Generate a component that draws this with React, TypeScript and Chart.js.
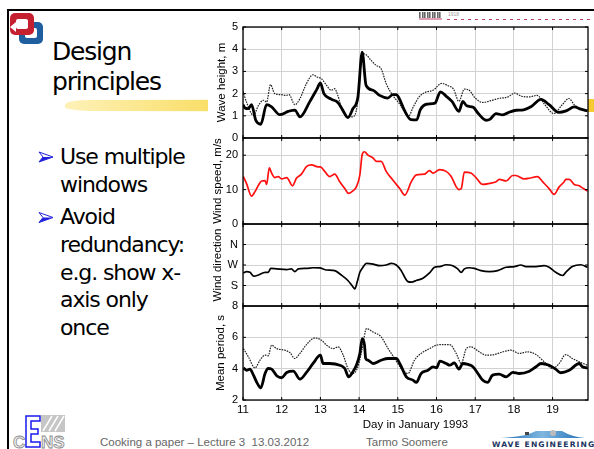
import React, { useEffect, useRef } from 'react';
import { Chart, registerables } from 'chart.js';

Chart.register(...registerables);

// ---------- data (day in January 1993, value) ----------
const dayTicks = [11, 12, 13, 14, 15, 16, 17, 18, 19];
const waveTicks = [0, 1, 2, 3, 4, 5];
const windTicks = [0, 10, 20];
const dirTicks = [180, 270, 360];
const dirTickLabels: Record<number, string> = { 180: 'S', 270: 'W', 360: 'N' };
const periodTicks = [2, 4, 6, 8];

const waveMeasured: [number, number][] = [
  [11.0, 1.5], [11.05, 1.35], [11.14, 1.32], [11.22, 1.5], [11.33, 0.8], [11.46, 0.62], [11.61, 1.5],
  [11.74, 1.4], [11.95, 1.05], [12.17, 1.2], [12.34, 1.26], [12.47, 0.95], [12.73, 1.65], [12.91, 2.2],
  [13.0, 2.48], [13.09, 2.0], [13.28, 1.75], [13.45, 1.6], [13.58, 1.25], [13.71, 0.92], [13.84, 1.32],
  [13.97, 1.85], [14.08, 3.87], [14.18, 2.37], [14.36, 2.15], [14.53, 1.92], [14.74, 1.8], [14.87, 1.95],
  [14.96, 1.95], [15.04, 1.77], [15.17, 1.25], [15.34, 0.83], [15.49, 0.82], [15.58, 1.27], [15.74, 1.52],
  [15.96, 1.57], [16.1, 2.08], [16.24, 1.9], [16.4, 1.65], [16.58, 1.2], [16.68, 1.65], [16.78, 1.45],
  [16.95, 1.38], [17.08, 1.1], [17.28, 0.8], [17.38, 0.84], [17.54, 1.1], [17.71, 1.04], [17.89, 1.17],
  [18.06, 1.25], [18.25, 1.27], [18.45, 1.42], [18.7, 1.74], [18.91, 1.5], [19.16, 1.15], [19.35, 1.22],
  [19.56, 1.4], [19.73, 1.3], [19.9, 1.22],
];

const waveModel: [number, number][] = [
  [11.0, 2.1], [11.09, 1.62], [11.27, 1.02], [11.4, 1.47], [11.53, 1.7], [11.61, 1.62], [11.71, 2.4],
  [11.82, 2.0], [11.99, 1.95], [12.12, 1.92], [12.19, 1.95], [12.34, 1.5], [12.47, 1.77], [12.64, 2.45],
  [12.81, 2.85], [12.91, 2.75], [13.03, 2.67], [13.16, 2.37], [13.28, 2.15], [13.37, 2.22], [13.45, 1.92],
  [13.58, 1.17], [13.71, 0.95], [13.82, 0.95], [13.93, 1.25], [14.01, 2.52], [14.08, 3.8], [14.18, 3.75],
  [14.31, 3.5], [14.44, 3.27], [14.57, 3.12], [14.7, 2.45], [14.87, 1.92], [15.04, 1.55], [15.17, 1.2],
  [15.27, 0.97], [15.4, 1.4], [15.55, 1.85], [15.7, 2.05], [15.92, 2.16], [16.13, 2.46], [16.3, 2.35],
  [16.44, 2.2], [16.58, 1.65], [16.72, 2.2], [16.82, 2.18], [17.0, 1.8], [17.2, 1.6], [17.4, 1.68],
  [17.6, 1.78], [17.85, 1.85], [18.02, 2.02], [18.2, 1.88], [18.4, 1.85], [18.6, 1.92], [18.8, 1.5],
  [19.03, 1.1], [19.25, 1.5], [19.42, 1.78], [19.56, 1.5], [19.73, 1.3], [19.9, 1.2],
];

const windSpeed: [number, number][] = [
  [11.01, 13.8], [11.09, 11.8], [11.22, 8.1], [11.31, 9.4], [11.4, 11.3], [11.48, 12.5], [11.57, 12.6],
  [11.61, 11.5], [11.68, 16.3], [11.74, 14.8], [11.82, 13.5], [11.91, 13.8], [12.0, 13.1], [12.13, 13.5],
  [12.28, 11.1], [12.38, 13.3], [12.51, 14.5], [12.64, 16.7], [12.77, 17.2], [12.94, 16.6], [13.0, 16.6],
  [13.11, 15.3], [13.24, 13.8], [13.37, 14.5], [13.5, 12.3], [13.63, 10.3], [13.73, 8.9], [13.84, 9.6],
  [13.93, 10.8], [14.02, 14.3], [14.08, 20.2], [14.14, 21.0], [14.23, 20.0], [14.36, 19.2], [14.45, 18.2],
  [14.57, 18.2], [14.7, 15.3], [14.87, 12.8], [15.05, 10.3], [15.18, 8.4], [15.35, 12.3], [15.48, 14.3],
  [15.69, 14.5], [15.82, 15.5], [15.91, 14.8], [16.08, 15.8], [16.25, 15.3], [16.38, 13.8], [16.51, 10.8],
  [16.58, 10.0], [16.64, 10.3], [16.72, 15.1], [16.89, 14.8], [17.02, 13.5], [17.19, 11.5], [17.37, 11.8],
  [17.54, 12.3], [17.62, 13.0], [17.8, 12.5], [17.97, 14.1], [18.05, 14.1], [18.27, 13.1], [18.4, 13.3],
  [18.61, 13.8], [18.74, 12.3], [18.91, 10.3], [19.04, 8.6], [19.17, 10.8], [19.3, 12.3], [19.34, 13.0],
  [19.43, 13.0], [19.56, 11.5], [19.69, 11.1], [19.77, 10.5], [19.9, 9.6],
];

const windDirection: [number, number][] = [
  [11.01, 235], [11.09, 241], [11.18, 238], [11.28, 221], [11.4, 226], [11.57, 238], [11.65, 238],
  [11.72, 255], [11.87, 253], [12.13, 250], [12.25, 253], [12.34, 241], [12.43, 253], [12.64, 255],
  [12.81, 258], [12.98, 257], [13.16, 248], [13.37, 245], [13.54, 226], [13.71, 202], [13.83, 177],
  [13.89, 165], [13.95, 195], [14.02, 238], [14.1, 260], [14.19, 277], [14.36, 274], [14.53, 267],
  [14.7, 270], [14.83, 277], [14.96, 270], [15.09, 245], [15.18, 216], [15.26, 197], [15.35, 195],
  [15.48, 202], [15.65, 212], [15.82, 235], [15.95, 260], [16.08, 263], [16.25, 271], [16.42, 267],
  [16.55, 253], [16.64, 238], [16.72, 253], [16.85, 258], [16.98, 255], [17.15, 245], [17.37, 241],
  [17.58, 245], [17.8, 260], [18.01, 263], [18.18, 270], [18.31, 263], [18.57, 263], [18.78, 267],
  [18.91, 260], [19.08, 238], [19.26, 224], [19.34, 238], [19.51, 263], [19.73, 271], [19.9, 260],
];

const periodMeasured: [number, number][] = [
  [11.01, 4.05], [11.09, 3.9], [11.18, 3.97], [11.27, 3.59], [11.37, 3.06], [11.46, 2.78], [11.57, 3.69],
  [11.65, 4.01], [11.74, 3.97], [11.87, 3.55], [12.0, 3.42], [12.13, 3.76], [12.3, 3.84], [12.47, 3.33],
  [12.64, 3.76], [12.81, 4.33], [13.0, 4.86], [13.07, 4.33], [13.24, 4.33], [13.5, 4.22], [13.63, 4.01],
  [13.73, 3.48], [13.83, 3.76], [13.93, 4.22], [14.02, 4.97], [14.08, 5.92], [14.14, 5.5], [14.17, 4.65],
  [14.23, 4.54], [14.36, 4.33], [14.57, 4.54], [14.75, 4.65], [14.96, 4.65], [15.05, 4.33], [15.22, 3.48],
  [15.39, 3.27], [15.48, 3.12], [15.6, 3.69], [15.78, 3.9], [15.91, 4.12], [16.0, 4.05], [16.09, 4.48],
  [16.25, 4.33], [16.34, 4.22], [16.46, 4.37], [16.58, 3.97], [16.68, 4.33], [16.81, 4.27], [16.94, 4.12],
  [17.07, 3.69], [17.19, 3.27], [17.32, 3.12], [17.45, 3.59], [17.62, 3.65], [17.8, 3.48], [17.97, 3.76],
  [18.14, 3.69], [18.4, 3.84], [18.57, 4.12], [18.7, 4.33], [18.91, 4.22], [19.08, 3.97], [19.21, 3.74],
  [19.43, 3.9], [19.69, 4.33], [19.77, 4.12], [19.9, 4.05],
];

const periodModel: [number, number][] = [
  [11.01, 5.28], [11.14, 4.75], [11.31, 4.05], [11.44, 4.54], [11.57, 4.86], [11.65, 4.82], [11.74, 5.5],
  [11.87, 5.28], [12.08, 5.18], [12.21, 5.03], [12.34, 4.65], [12.47, 4.97], [12.64, 5.54], [12.86, 5.96],
  [13.03, 5.81], [13.16, 5.5], [13.33, 5.28], [13.46, 5.39], [13.59, 4.86], [13.71, 4.01], [13.84, 3.69],
  [13.97, 4.12], [14.08, 5.28], [14.19, 6.55], [14.36, 6.34], [14.57, 6.03], [14.75, 5.28], [14.92, 4.65],
  [15.09, 4.01], [15.26, 3.69], [15.43, 4.54], [15.6, 4.97], [15.82, 5.28], [16.0, 5.5], [16.16, 5.54],
  [16.34, 5.54], [16.51, 4.97], [16.64, 4.33], [16.77, 5.28], [16.89, 5.39], [17.11, 5.07], [17.28, 4.86],
  [17.49, 4.9], [17.71, 5.07], [17.92, 5.18], [18.14, 4.97], [18.35, 5.07], [18.57, 4.9], [18.74, 4.54],
  [18.91, 4.12], [19.0, 4.01], [19.17, 4.33], [19.34, 4.9], [19.51, 4.65], [19.69, 4.44], [19.9, 4.22],
];

// ---------- styling ----------
const FONT = "'Liberation Sans', Arial, sans-serif";
const SLIDE_FONT = "'DejaVu Sans', Verdana, sans-serif";
const GRID = '#d2d2d2';

const pts = (arr: [number, number][]) => arr.map(([x, y]) => ({ x, y }));

const yAxis = (
  min: number, max: number, tickVals: number[], title: string,
  stackWeight: number, weight: number, titlePad: number,
  fmt?: (v: number) => string,
) => ({
  type: 'linear', axis: 'y', position: 'left', stack: 'panels', stackWeight, weight,
  min, max,
  afterBuildTicks: (s: any) => { s.ticks = tickVals.map((v) => ({ value: v })); },
  afterFit: (s: any) => { s.width = 43; },
  ticks: {
    autoSkip: false, padding: 5, color: '#000',
    font: { family: FONT, size: 11 },
    callback: (v: any) => (fmt ? fmt(Number(v)) : String(v)),
  },
  grid: { color: GRID, lineWidth: 1, drawTicks: false },
  border: { display: false },
  title: {
    display: true, text: title, color: '#000',
    font: { family: FONT, size: 11.5 },
    padding: { top: titlePad, bottom: 0 },
  },
});

const framePlugin = {
  id: 'panelFrames',
  afterDraw(chart: any) {
    const { ctx, chartArea } = chart;
    const xs = chart.scales.x;
    const { left, right } = chartArea;
    ctx.save();
    ctx.strokeStyle = '#000';
    for (const id of ['yWave', 'yWind', 'yDir', 'yPeriod']) {
      const s = chart.scales[id];
      ctx.lineWidth = 1.3;
      ctx.strokeRect(left, s.top, right - left, s.bottom - s.top);
      ctx.beginPath();
      xs.ticks.forEach((t: any) => {
        const px = xs.getPixelForValue(t.value);
        ctx.moveTo(px, s.top); ctx.lineTo(px, s.top + 3);
        ctx.moveTo(px, s.bottom); ctx.lineTo(px, s.bottom - 3);
      });
      s.ticks.forEach((t: any) => {
        const py = s.getPixelForValue(t.value);
        ctx.moveTo(left, py); ctx.lineTo(left + 3, py);
        ctx.moveTo(right, py); ctx.lineTo(right - 3, py);
      });
      ctx.lineWidth = 1;
      ctx.stroke();
    }
    ctx.restore();
  },
};

function WaveChart() {
  const ref = useRef<HTMLCanvasElement>(null);
  useEffect(() => {
    if (!ref.current) return;
    const line = (data: [number, number][], yAxisID: string, color: string, width: number, dash: number[] = []) => ({
      data: pts(data), yAxisID, xAxisID: 'x',
      borderColor: color, borderWidth: width, borderDash: dash,
      pointRadius: 0, fill: false, cubicInterpolationMode: 'monotone',
    });
    const chart = new Chart(ref.current, {
      type: 'line',
      data: {
        datasets: [
          line(waveMeasured, 'yWave', '#000', 2.8),
          line(waveModel, 'yWave', '#222', 1.2, [1.6, 1]),
          line(windSpeed, 'yWind', '#ff1010', 1.7),
          line(windDirection, 'yDir', '#000', 1.7),
          line(periodMeasured, 'yPeriod', '#000', 2.8),
          line(periodModel, 'yPeriod', '#222', 1.2, [1.6, 1]),
        ] as any,
      },
      options: {
        animation: false,
        responsive: false,
        devicePixelRatio: 1,
        layout: { padding: { top: 17, right: 6, left: 0, bottom: 0 } },
        plugins: { legend: { display: false }, tooltip: { enabled: false } },
        scales: {
          x: {
            type: 'linear', position: 'bottom', min: 11, max: 19.915,
            afterBuildTicks: (s: any) => { s.ticks = dayTicks.map((v) => ({ value: v })); },
            afterFit: (s: any) => { s.height = 40; },
            ticks: { autoSkip: false, maxRotation: 0, padding: 3, color: '#000', font: { family: FONT, size: 11.5 } },
            grid: { color: GRID, lineWidth: 1, drawTicks: false },
            border: { display: false },
            title: {
              display: true, text: 'Day in January 1993', color: '#000',
              font: { family: FONT, size: 11.5 }, padding: { top: 0, bottom: 8 },
            },
          },
          yPeriod: yAxis(2, 8, periodTicks, 'Mean period, s', 94, 1, 14),
          yDir: yAxis(90, 450, dirTicks, 'Wind direction', 82, 2, 11, (v) => dirTickLabels[v] ?? ''),
          yWind: yAxis(0, 25, windTicks, 'Wind speed, m/s', 86, 3, 11),
          yWave: yAxis(0, 5, waveTicks, 'Wave height, m', 111, 4, 15),
        } as any,
      },
      plugins: [framePlugin],
    });
    return () => chart.destroy();
  }, []);
  return <canvas ref={ref} width={394} height={430} style={{ display: 'block' }} />;
}

function Arrow({ x, y }: { x: number; y: number }) {
  return (
    <g transform={`translate(${x},${y})`}>
      <polygon points="0,0 14,5 0,10 4,5" fill="#fff" stroke="#2222dd" strokeWidth="1" />
      <polygon points="4,5 14,5 0,10" fill="#2222dd" />
    </g>
  );
}

export default function App() {
  const bulletLines: [string, number][] = [
    ['Use multiple', 163.5], ['windows', 191.5], ['Avoid', 223.5], ['redundancy:', 251.5],
    ['e.g. show x-', 279.5], ['axis only', 307], ['once', 335],
  ];
  return (
    <div style={{ position: 'absolute', left: 0, top: 0, width: 594, height: 449, background: '#fff', overflow: 'hidden' }}>
      <svg width={594} height={449} style={{ position: 'absolute', left: 0, top: 0 }}>
        <defs>
          <linearGradient id="hl" x1="0" x2="1" y1="0" y2="0">
            <stop offset="0" stopColor="#fdf0b0" />
            <stop offset="0.3" stopColor="#f8d84e" />
            <stop offset="1" stopColor="#f5c41c" />
          </linearGradient>
          <linearGradient id="wv" x1="0" x2="1" y1="0" y2="0">
            <stop offset="0" stopColor="#1f6db5" />
            <stop offset="0.5" stopColor="#7fb6e0" />
            <stop offset="1" stopColor="#1f6db5" />
          </linearGradient>
        </defs>
        {/* slide frame */}
        <line x1={8} y1={9} x2={8} y2={449} stroke="#000" strokeWidth={2} />
        <line x1={7} y1={10} x2={594} y2={10} stroke="#000" strokeWidth={2} />
        {/* top-left logo */}
        <rect x={19} y={22} width={24} height={22} rx={5} fill="#1f5f9f" />
        <rect x={25} y={28} width={12} height={10} rx={2} fill="#fff" />
        <rect x={10} y={13} width={24} height={22} rx={5} fill="#c5202f" />
        <rect x={16} y={19} width={12} height={10} rx={2} fill="#fff" />
        <polygon points="10,27 16,22 16,32" fill="#fff" />
        {/* title */}
        <text x={52} y={60} fontFamily={SLIDE_FONT} fontSize={25} letterSpacing={-1.2} fill="#000">Design</text>
        <text x={52} y={90} fontFamily={SLIDE_FONT} fontSize={25} letterSpacing={-1.2} fill="#000">principles</text>
        {/* highlighter */}
        <path d="M65,104 Q70,100 90,100 L594,99 L594,112 L90,111 Q70,110 65,108 Z" fill="url(#hl)" opacity={0.9} />
        {/* chart image background */}
        <rect x={208} y={18} width={380} height={420} fill="#fff" />
        {/* bullets */}
        <Arrow x={39} y={152} />
        <Arrow x={39} y={212.5} />
        {bulletLines.map(([t, b]) => (
          <text key={t} x={60} y={b} fontFamily={SLIDE_FONT} fontSize={22} letterSpacing={-1.1} fill="#000">{t}</text>
        ))}
        {/* top-right decoration */}
        {[0, 3, 5, 8, 10, 13, 15, 18, 20].map((o) => (
          <rect key={o} x={419 + o} y={12} width={1.6} height={6} fill="#666" />
        ))}
        <line x1={419} y1={19} x2={442} y2={19} stroke="#c04070" strokeWidth={1} />
        <text x={448} y={16} fontFamily={FONT} fontSize={5} fill="#999">1918</text>
        <line x1={447} y1={19.5} x2={590} y2={19.5} stroke="#c04070" strokeWidth={1} strokeDasharray="3,4" />
        {/* footer */}
        <text x={100} y={446} fontFamily={FONT} fontSize={11.5} fill="#666">{'Cooking a paper – Lecture 3\u00A0\u00A013.03.2012'}</text>
        <text x={366} y={446} fontFamily={FONT} fontSize={11.5} fill="#666">Tarmo Soomere</text>
        {/* CENS logo */}
        <rect x={41} y={415} width={24} height={17} fill="#c6c6c6" />
        <path d="M43,431 L52,416 M49,431 L58,416 M55,431 L64,416" stroke="#fff" strokeWidth={1.5} />
        <text x={13} y={448} fontFamily={FONT} fontWeight="bold" fontSize={17} fill="#eee" stroke="#8a8a8a" strokeWidth={0.8}>C</text>
        <text x={41} y={448} fontFamily={FONT} fontWeight="bold" fontSize={17} fill="#eee" stroke="#8a8a8a" strokeWidth={0.8}>NS</text>
        <path d="M26,416 H40 V421 H31 V429 H38 V434 H31 V442 H40 V447 H26 Z" fill="#fff" stroke="#1a1aee" strokeWidth={1.5} />
        {/* wave engineering logo */}
        <path d="M500,438 Q525,437 536,431 L562,431 Q572,437 585,438 Z" fill="url(#wv)" />
        <rect x={525} y={432} width={4} height={3} fill="#444" />
        <circle cx={553} cy={433} r={3} fill="#bbb" />
        <text x={492} y={447} fontFamily={SLIDE_FONT} fontWeight="bold" fontSize={7.6} letterSpacing={1.1} fill="#1c3560">WAVE ENGINEERING</text>
      </svg>
      <div style={{ position: 'absolute', left: 200, top: 10, width: 394, height: 430 }}>
        <WaveChart />
      </div>
    </div>
  );
}
